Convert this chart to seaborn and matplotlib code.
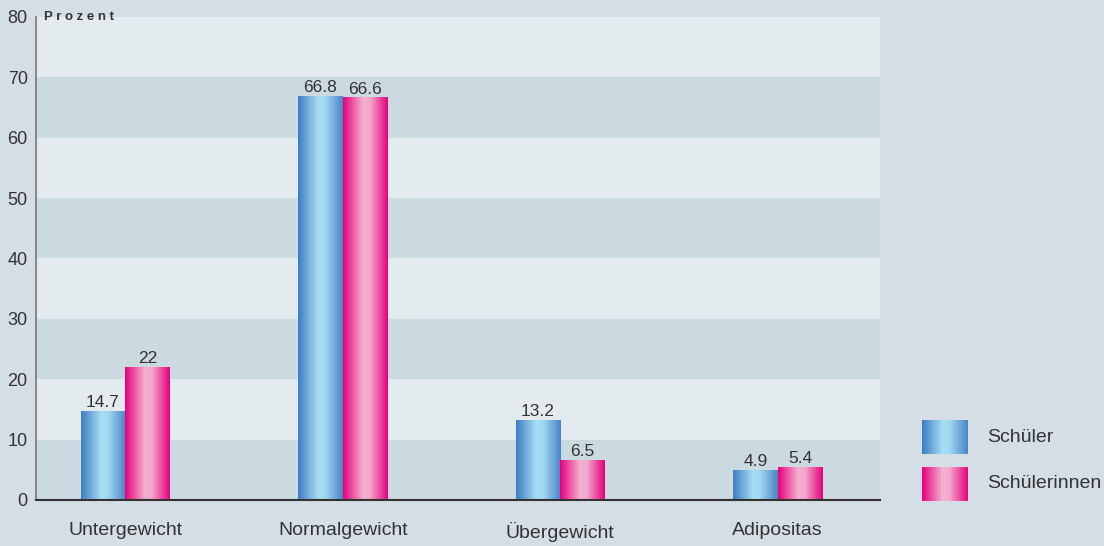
import numpy as np
import pandas as pd
import matplotlib
matplotlib.use("Agg")
import matplotlib.pyplot as plt
from matplotlib.colors import LinearSegmentedColormap
import seaborn as sns

# Daten
categories = ["Untergewicht", "Normalgewicht", "Übergewicht", "Adipositas"]
schueler = [14.7, 66.8, 13.2, 4.9]
schuelerinnen = [22, 66.6, 6.5, 5.4]
groups = ["Schüler", "Schülerinnen"]
yticks = [0, 10, 20, 30, 40, 50, 60, 70, 80]

df = pd.DataFrame({
    "Kategorie": categories * 2,
    "Gruppe": [groups[0]] * 4 + [groups[1]] * 4,
    "Prozent": schueler + schuelerinnen,
})

BG = "#d5dee4"
BAND_DARK = "#cbd9e0"
BAND_LIGHT = "#e4ebee"
TXT = "#333333"

blue_cmap = LinearSegmentedColormap.from_list(
    "blau", [(0, "#3d7cc2"), (0.45, "#a8ddf4"), (0.6, "#a2d7f1"), (1, "#4884c7")])
pink_cmap = LinearSegmentedColormap.from_list(
    "pink", [(0, "#e5007b"), (0.45, "#f5b1d1"), (0.6, "#f3a8cb"), (1, "#e4007c")])
cmaps = [blue_cmap, pink_cmap]
grad = np.linspace(0, 1, 256).reshape(1, -1)

sns.set_style("white")
plt.rcParams["font.family"] = ["Liberation Sans Narrow", "Liberation Sans", "DejaVu Sans"]

W, H = 1104, 546
fig = plt.figure(figsize=(W / 100, H / 100), dpi=100, facecolor=BG)
ax = fig.add_axes([36 / W, 1 - 500 / H, (880 - 36) / W, (500 - 17) / H])
ax.set_facecolor(BG)

sns.barplot(data=df, x="Kategorie", y="Prozent", hue="Gruppe", order=categories,
            hue_order=groups, palette=["#8cc8ec", "#f08cbc"], width=0.41,
            saturation=1, linewidth=0, legend=False, ax=ax, zorder=2)

xlim = (-0.41, 3.47)
ylim = (0, 80)

# Hintergrundstreifen
for i, lo in enumerate(yticks[:-1]):
    ax.axhspan(lo, lo + 10, color=BAND_DARK if i % 2 == 0 else BAND_LIGHT, zorder=0, lw=0)

# Farbverlauf auf den Balken
for cont, cmap in zip(ax.containers, cmaps):
    for bar in cont:
        x0, w, h = bar.get_x(), bar.get_width(), bar.get_height()
        ax.imshow(grad, cmap=cmap, extent=[x0, x0 + w, 0, h], aspect="auto", zorder=3)
        bar.set_visible(False)
    ax.bar_label(cont, labels=[f"{b.get_height():g}" for b in cont], padding=1,
                 fontsize=12.5, color=TXT, zorder=4)

ax.set_xlim(*xlim)
ax.set_ylim(*ylim)
ax.set_yticks(yticks)
ax.tick_params(axis="y", length=0, labelsize=13, labelcolor=TXT, pad=6)
ax.tick_params(axis="x", length=0, labelsize=14, labelcolor=TXT, pad=16)
ax.set_xlabel("")
ax.set_ylabel("")
for s in ["top", "right"]:
    ax.spines[s].set_visible(False)
ax.spines["left"].set_color("#777777")
ax.spines["left"].set_linewidth(1.2)
ax.spines["bottom"].set_color("#333333")
ax.spines["bottom"].set_linewidth(1.5)
ax.spines["bottom"].set_zorder(5)

ax.text(44 / W, 1 - 17 / H, "P r o z e n t", transform=fig.transFigure,
        fontsize=9.5, fontweight="bold", color=TXT, ha="left", va="center")

# Legende mit Farbverlauf (von Hand gesetzt)
legend_top = [420, 467]
for name, cmap, top in zip(groups, cmaps, legend_top):
    lax = fig.add_axes([922 / W, 1 - (top + 34) / H, 46 / W, 34 / H])
    lax.imshow(grad, cmap=cmap, aspect="auto")
    lax.axis("off")
    fig.text(987 / W, 1 - (top + 17) / H, name, fontsize=14, color=TXT,
             ha="left", va="center")

fig.savefig("out.png", dpi=100, facecolor=BG)
plt.close(fig)
